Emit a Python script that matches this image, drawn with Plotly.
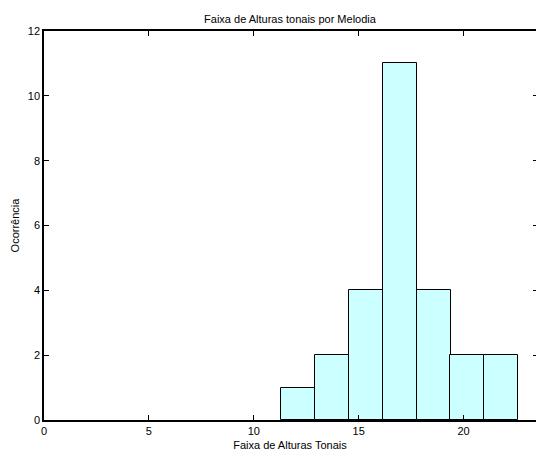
import plotly.graph_objects as go

# Data
bin_centers = [12.12, 13.73, 15.34, 16.96, 18.57, 20.18, 21.80]
counts = [1, 2, 4, 11, 4, 2, 2]
x_ticks = [0, 5, 10, 15, 20]
y_ticks = [0, 2, 4, 6, 8, 10, 12]

title_text = "Faixa de Alturas tonais por Melodia"
x_label = "Faixa de Alturas Tonais"
y_label = "Ocorrência"

bin_width = (bin_centers[-1] - bin_centers[0]) / (len(bin_centers) - 1)

FONT = "Liberation Sans, Arial, Helvetica, sans-serif"

fig = go.Figure()
fig.add_trace(go.Bar(
    x=bin_centers, y=counts, width=[bin_width] * len(counts),
    marker=dict(color="#CCFFFF", line=dict(color="black", width=1)),
    showlegend=False,
))
# invisible trace to carry the right-side axis ticks
fig.add_trace(go.Scatter(x=[bin_centers[0]], y=[0], yaxis="y2",
                         mode="markers", marker=dict(opacity=0),
                         showlegend=False, hoverinfo="skip"))

fig.update_layout(
    width=536, height=452,
    margin=dict(l=44, r=0, t=31, b=32),
    paper_bgcolor="white", plot_bgcolor="white",
    font=dict(family=FONT, size=11, color="black"),
    title=dict(text=title_text, x=0.5, xanchor="center", xref="paper",
               y=1 - 19.5 / 452, yanchor="middle",
               font=dict(family=FONT, size=11, color="black")),
    bargap=0,
    xaxis=dict(range=[0, 23.45], tickvals=x_ticks, ticktext=[str(v) for v in x_ticks],
               ticks="inside", ticklen=5, tickcolor="black", tickwidth=1,
               showline=True, linecolor="black", linewidth=1.5, mirror="ticks",
               showgrid=False, zeroline=False,
               title=dict(text=x_label, standoff=5, font=dict(family=FONT, size=11)),
               tickfont=dict(family=FONT, size=11)),
    yaxis=dict(range=[0, 12], tickvals=y_ticks, ticktext=[str(v) for v in y_ticks],
               ticks="inside", ticklen=5, tickcolor="black", tickwidth=1,
               showline=True, linecolor="black", linewidth=1.5, mirror=False,
               showgrid=False, zeroline=False,
               title=dict(text=y_label, standoff=6, font=dict(family=FONT, size=11)),
               tickfont=dict(family=FONT, size=11)),
    yaxis2=dict(range=[0, 12], tickvals=y_ticks, overlaying="y", side="right",
                ticks="inside", ticklen=3, tickcolor="black", tickwidth=1,
                showticklabels=False, showline=False, showgrid=False, zeroline=False),
)

fig.write_html("out.html")
